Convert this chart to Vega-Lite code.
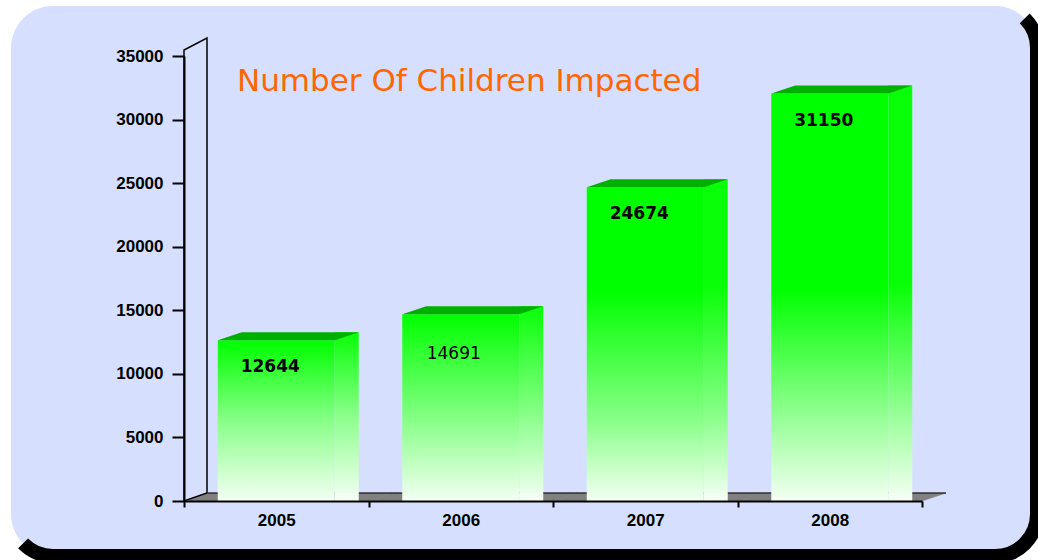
{
  "$schema": "https://vega.github.io/schema/vega-lite/v6.json",
  "width": 1026,
  "height": 550,
  "autosize": {"type": "none"},
  "padding": {"left": 11, "top": 6, "right": 1, "bottom": 4},
  "background": "white",
  "config": {
    "view": {"fill": "#d6e0fe", "cornerRadius": 42, "stroke": "black", "strokeWidth": 14, "strokeDash": [1540, 3000], "strokeDashOffset": 3565}
  },
  "data": {"values": [
    {"year": 2005, "children": 12644, "label": "12644"},
    {"year": 2006, "children": 14691, "label": "14691"},
    {"year": 2007, "children": 24674, "label": "24674"},
    {"year": 2008, "children": 32050, "label": "31150"}
  ]},
  "encoding": {
    "x": {
      "field": "year", "type": "ordinal", "title": null,
      "scale": {"range": [173, 911], "paddingInner": 0, "paddingOuter": 0},
      "axis": {"title": null, "orient": "bottom", "offset": -55, "tickBand": "extent", "tickSize": 6, "tickWidth": 2, "tickColor": "black", "domainColor": "black", "domainWidth": 2, "labelAngle": 0, "labelFont": "Liberation Sans", "labelFontWeight": "bold", "labelFontSize": 17, "labelColor": "black", "labelPadding": 5, "grid": false, "zindex": 1}
    },
    "y": {
      "field": "children", "type": "quantitative", "stack": null, "title": null,
      "scale": {"domain": [0, 35000], "range": [495, 50], "nice": false, "zero": true},
      "axis": {"title": null, "orient": "left", "offset": -173, "values": [0, 5000, 10000, 15000, 20000, 25000, 30000, 35000], "format": "d", "domainColor": "black", "domainWidth": 2, "tickColor": "black", "tickWidth": 2, "tickSize": 12, "labelFont": "Liberation Sans", "labelFontWeight": "bold", "labelFontSize": 17, "labelColor": "black", "labelPadding": 9, "grid": false, "zindex": 1}
    }
  },
  "layer": [
    {
      "mark": {"type": "point", "shape": "M-92.25,0L92.25,0L116.25,-8L-68.25,-8Z", "size": 4, "filled": true, "fill": "#808080", "stroke": "#808080", "strokeWidth": 0.6, "opacity": 1},
      "encoding": {
        "y": {"datum": 0, "type": "quantitative", "title": null}
      }
    },
    {
      "mark": {"type": "point", "shape": "M-68.25,-8L116.25,-8", "size": 4, "filled": false, "stroke": "black", "strokeWidth": 1.2, "opacity": 1},
      "encoding": {
        "y": {"datum": 0, "type": "quantitative", "title": null}
      }
    },
    {
      "transform": [{"filter": "datum.year === 2005"}],
      "mark": {"type": "point", "shape": "M0,0L0,-451L23,-463L23,-8Z", "size": 4, "filled": false, "stroke": "black", "strokeWidth": 1.5, "opacity": 1},
      "encoding": {
        "x": {"field": "year", "type": "ordinal", "bandPosition": 0, "title": null},
        "y": {"datum": 0, "type": "quantitative", "title": null}
      }
    },
    {
      "mark": {"type": "bar", "width": 24, "xOffset": 70.5, "yOffset": -8, "y2Offset": -8},
      "encoding": {
        "fill": {
          "condition": [
            {"test": "datum.year === 2005", "value": {"gradient": "linear", "x1": 0, "y1": 0, "x2": 0, "y2": 1, "stops": [{"offset": 0, "color": "#08ff08"}, {"offset": 0.5, "color": "#8cff8c"}, {"offset": 1, "color": "#f6fff6"}]}},
            {"test": "datum.year === 2006", "value": {"gradient": "linear", "x1": 0, "y1": 0, "x2": 0, "y2": 1, "stops": [{"offset": 0, "color": "#08ff08"}, {"offset": 0.57, "color": "#8cff8c"}, {"offset": 1, "color": "#f6fff6"}]}},
            {"test": "datum.year === 2007", "value": {"gradient": "linear", "x1": 0, "y1": 0, "x2": 0, "y2": 1, "stops": [{"offset": 0, "color": "#08ff08"}, {"offset": 0.33, "color": "#08ff08"}, {"offset": 0.742, "color": "#8cff8c"}, {"offset": 1, "color": "#f6fff6"}]}}
          ],
          "value": {"gradient": "linear", "x1": 0, "y1": 0, "x2": 0, "y2": 1, "stops": [{"offset": 0, "color": "#08ff08"}, {"offset": 0.48, "color": "#08ff08"}, {"offset": 0.8, "color": "#9cff9c"}, {"offset": 1, "color": "#f6fff6"}]}
        }
      }
    },
    {
      "mark": {"type": "point", "shape": "M58.5,0L58.5,-8L82.5,-8Z", "size": 4, "filled": true, "fill": "#f4fff4", "stroke": null, "opacity": 1},
      "encoding": {
        "y": {"datum": 0, "type": "quantitative", "title": null}
      }
    },
    {
      "mark": {"type": "bar", "width": 117},
      "encoding": {
        "fill": {
          "condition": [
            {"test": "datum.year === 2005", "value": {"gradient": "linear", "x1": 0, "y1": 0, "x2": 0, "y2": 1, "stops": [{"offset": 0, "color": "#00ff00"}, {"offset": 0.5, "color": "#88ff88"}, {"offset": 1, "color": "#f4fff4"}]}},
            {"test": "datum.year === 2006", "value": {"gradient": "linear", "x1": 0, "y1": 0, "x2": 0, "y2": 1, "stops": [{"offset": 0, "color": "#00ff00"}, {"offset": 0.57, "color": "#88ff88"}, {"offset": 1, "color": "#f4fff4"}]}},
            {"test": "datum.year === 2007", "value": {"gradient": "linear", "x1": 0, "y1": 0, "x2": 0, "y2": 1, "stops": [{"offset": 0, "color": "#00ff00"}, {"offset": 0.33, "color": "#00ff00"}, {"offset": 0.742, "color": "#88ff88"}, {"offset": 1, "color": "#f4fff4"}]}}
          ],
          "value": {"gradient": "linear", "x1": 0, "y1": 0, "x2": 0, "y2": 1, "stops": [{"offset": 0, "color": "#00ff00"}, {"offset": 0.48, "color": "#00ff00"}, {"offset": 0.8, "color": "#98ff98"}, {"offset": 1, "color": "#f4fff4"}]}
        }
      }
    },
    {
      "mark": {"type": "point", "shape": "M-58.5,0L58.5,0L82.5,-8L-34.5,-8Z", "size": 4, "filled": true, "fill": "#00b000", "stroke": null, "opacity": 1}
    },
    {
      "transform": [{"filter": "datum.year !== 2006"}],
      "mark": {"type": "text", "font": "DejaVu Sans", "fontWeight": "bold", "fontSize": 17, "color": "black", "align": "center", "baseline": "middle", "dx": -6, "dy": 27},
      "encoding": {
        "text": {"field": "label"}
      }
    },
    {
      "transform": [{"filter": "datum.year === 2006"}],
      "mark": {"type": "text", "font": "DejaVu Sans", "fontWeight": "normal", "fontSize": 17, "color": "black", "align": "center", "baseline": "middle", "dx": -7, "dy": 40},
      "encoding": {
        "text": {"field": "label"}
      }
    },
    {
      "transform": [{"filter": "datum.year === 2005"}],
      "mark": {"type": "text", "text": "Number Of Children Impacted", "font": "DejaVu Sans", "fontSize": 31, "color": "#ff6600", "align": "left", "baseline": "alphabetic", "dx": 53, "dy": 35},
      "encoding": {
        "x": {"field": "year", "type": "ordinal", "bandPosition": 0, "title": null},
        "y": {"datum": 35000, "type": "quantitative", "title": null}
      }
    }
  ]
}
